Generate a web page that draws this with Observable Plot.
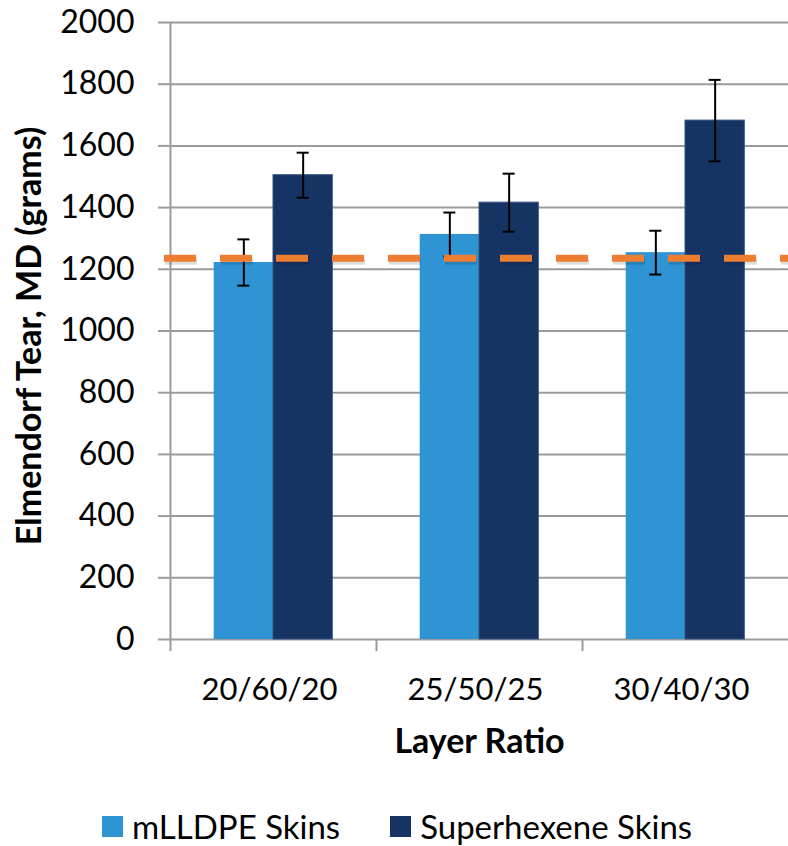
<!DOCTYPE html>
<html><head><meta charset="utf-8">
<script src="https://cdn.jsdelivr.net/npm/d3@7"></script>
<script src="https://cdn.jsdelivr.net/npm/@observablehq/plot@0.6"></script>
<style>
body{margin:0;background:#fff;font-family:Lato,sans-serif;}
#legend{display:flex;align-items:center;height:42px;margin-top:25px;padding-left:102px;font:33px Lato,sans-serif;color:#000;}
#legend .sw{width:21px;height:21px;margin-right:9px;flex:none;}
#legend .item{display:flex;align-items:center;margin-right:50px;white-space:nowrap;}
</style></head><body><div id="chart"></div><script>
const categories = ["20/60/20", "25/50/25", "30/40/30"];
const seriesNames = ["mLLDPE Skins", "Superhexene Skins"];
const seriesColors = ["#2E94D4", "#163463"];
const mlldpeValues = [1222, 1313, 1254];
const mlldpeErrors = [75, 71, 71];
const superhexeneValues = [1505, 1416, 1682];
const superhexeneErrors = [73, 94, 132];
const referenceValue = 1236;
const yTicks = [0, 200, 400, 600, 800, 1000, 1200, 1400, 1600, 1800, 2000];
const yLabel = "Elmendorf Tear, MD (grams)";
const xLabel = "Layer Ratio";

const rows = [];
categories.forEach((c, i) => {
  rows.push({cat: c, series: seriesNames[0], value: mlldpeValues[i], err: mlldpeErrors[i]});
  rows.push({cat: c, series: seriesNames[1], value: superhexeneValues[i], err: superhexeneErrors[i]});
});

const W = 788, H = 780, mt = 22, mb = H - 639, ml = 170, mr = 0;
const plotH = H - mt - mb;
const band = (W - ml - mr) / categories.length;
const barW = 59.3;
const outer = (band - 2 * barW) / 2;
const capHalf = 6;
const grid = "#9b9b9b";

const marks = [
  Plot.gridY(yTicks, {stroke: grid, strokeOpacity: 1, strokeWidth: 2}),
  Plot.axisY(yTicks, {tickSize: 12, tickPadding: 24, fontSize: 32, stroke: grid, strokeWidth: 2, fill: "#000", label: null, tickFormat: d => String(d)}),
  Plot.ruleX([categories[0]], {dx: -band / 2, stroke: grid, strokeWidth: 2, insetBottom: -12}),
  Plot.ruleX(categories.slice(1), {dx: -band / 2, stroke: grid, strokeWidth: 2, insetTop: plotH, insetBottom: -12}),
  Plot.axisX({tickSize: 0, tickPadding: 38, fontSize: 31, fill: "#000", label: null, dx: -4})
];

seriesNames.forEach((s, i) => {
  const sub = rows.filter(d => d.series === s);
  const left = i === 0 ? outer : band / 2;
  const right = i === 0 ? band / 2 : outer;
  const c = left + barW / 2;
  marks.push(Plot.barY(sub, {x: "cat", y: "value", fill: "series", insetLeft: left, insetRight: right,
    stroke: i === 1 ? "#34527f" : null, strokeWidth: 1}));
  marks.push(Plot.ruleX(sub, {x: "cat", y1: d => d.value - d.err, y2: d => d.value + d.err, dx: i === 0 ? -barW / 2 : barW / 2, stroke: "#000", strokeWidth: 2}));
  marks.push(Plot.tickY(sub, {x: "cat", y: d => d.value + d.err, insetLeft: c - capHalf, insetRight: band - c - capHalf, stroke: "#000", strokeWidth: 2}));
  marks.push(Plot.tickY(sub, {x: "cat", y: d => d.value - d.err, insetLeft: c - capHalf, insetRight: band - c - capHalf, stroke: "#000", strokeWidth: 2}));
});

marks.push(Plot.ruleY([referenceValue], {stroke: "#000", strokeOpacity: 0.13, strokeWidth: 7, strokeDasharray: "32 24", insetLeft: -6, dy: 3, dx: 1}));
marks.push(Plot.ruleY([referenceValue], {stroke: "#ED7D31", strokeWidth: 7, strokeDasharray: "32 24", insetLeft: -6}));
marks.push(Plot.text([yLabel], {frameAnchor: "left", textAnchor: "middle", lineAnchor: "middle", rotate: -90, dx: -140, dy: 5, fontWeight: "bold", fontSize: 34, fill: "#000"}));
marks.push(Plot.text([xLabel], {frameAnchor: "bottom", textAnchor: "middle", lineAnchor: "middle", dy: 103, fontWeight: "bold", fontSize: 34, fill: "#000"}));

const chart = Plot.plot({
  width: W, height: H,
  marginTop: mt, marginBottom: mb, marginLeft: ml, marginRight: mr,
  style: {fontFamily: "Lato, sans-serif", background: "#fff", color: "#000", overflow: "visible"},
  x: {domain: categories, padding: 0},
  y: {domain: [0, 2000]},
  color: {domain: seriesNames, range: seriesColors},
  marks
});
document.getElementById("chart").appendChild(chart);

const legend = document.createElement("div");
legend.id = "legend";
seriesNames.forEach((s, i) => {
  const item = document.createElement("div");
  item.className = "item";
  const sw = document.createElement("div");
  sw.className = "sw";
  sw.style.background = seriesColors[i];
  item.appendChild(sw);
  item.appendChild(document.createTextNode(s));
  legend.appendChild(item);
});
document.body.appendChild(legend);
</script></body></html>
